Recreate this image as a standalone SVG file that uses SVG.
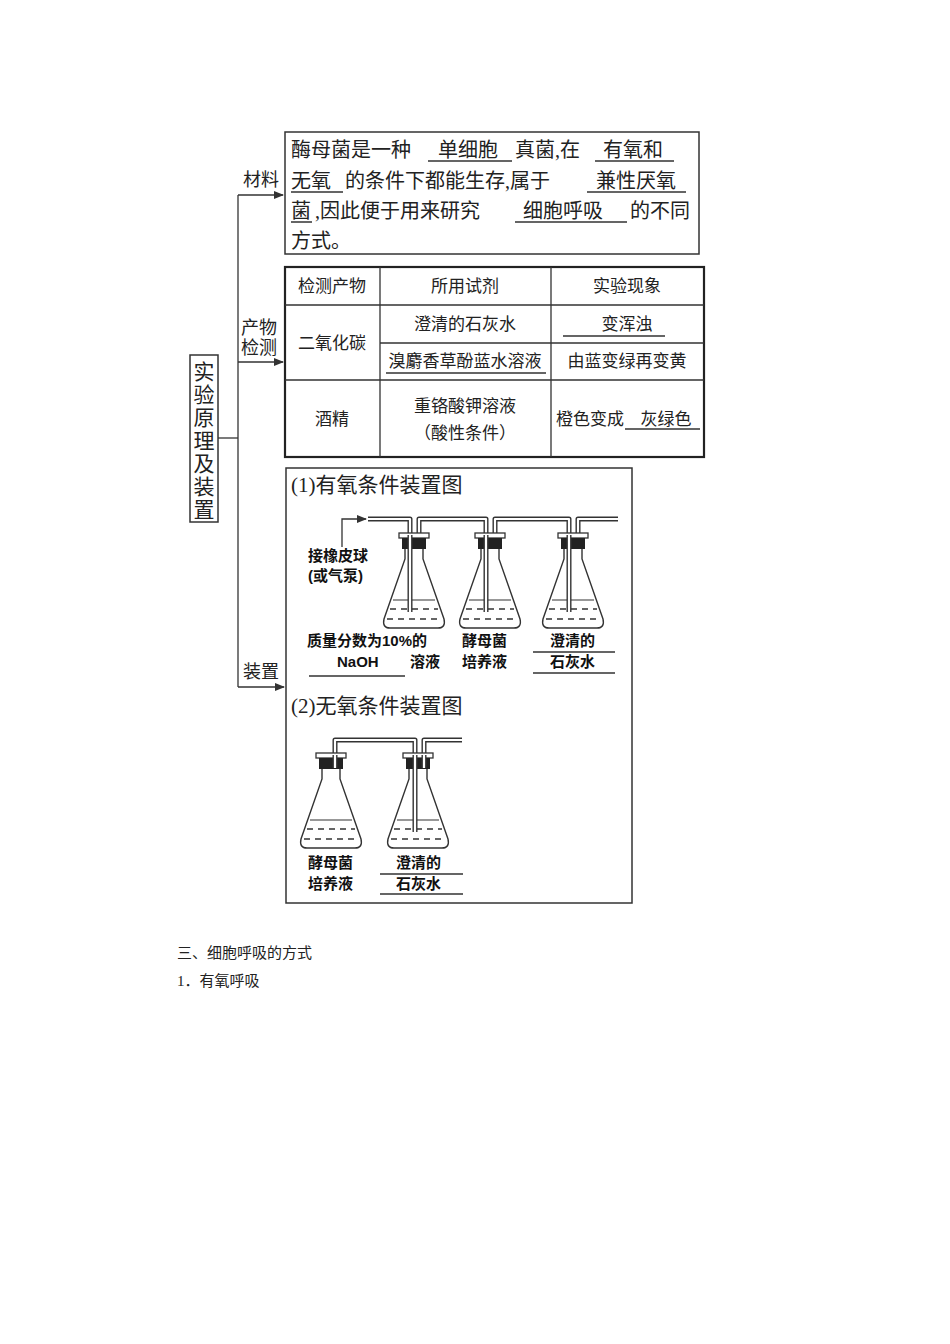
<svg xmlns="http://www.w3.org/2000/svg" width="950" height="1344" viewBox="0 0 950 1344">
<style>
.t{font-family:"Liberation Serif","Noto Sans CJK SC",serif;fill:#222}
.s{font-family:"Liberation Sans","Noto Sans CJK SC",sans-serif;fill:#111;font-weight:bold}
.ln{stroke:#333;stroke-width:1.3;fill:none}
.bx{stroke:#333;stroke-width:1.5;fill:none}
.tube{stroke:#333;stroke-width:5;fill:none;stroke-linejoin:round}
.tubei{stroke:#fff;stroke-width:2.2;fill:none;stroke-linejoin:round}
</style>
<defs>
<marker id="ar" markerWidth="10" markerHeight="8" refX="9" refY="4" orient="auto" markerUnits="userSpaceOnUse"><path d="M0,0 L10,4 L0,8 z" fill="#333"/></marker>
<g id="flask">
<path d="M-9,15 L-9,26 L-30,86 Q-32,95 -24,95 L24,95 Q32,95 30,86 L9,26 L9,15" fill="#fff" stroke="#333" stroke-width="1.4"/>
<line x1="-21" y1="67" x2="21" y2="67" stroke="#333" stroke-width="1.2"/>
<path d="M-24,76 h6 M-13,76 h6 M-2,76 h6 M9,76 h6 M20,76 h4 M-27,86 h6 M-16,86 h6 M-5,86 h6 M6,86 h6 M17,86 h6" stroke="#333" stroke-width="1.3"/>
<rect x="-15" y="0" width="30" height="5" fill="#fff" stroke="#333" stroke-width="1.3"/>
<rect x="-12" y="5" width="24" height="11" fill="#222"/>
</g>
</defs>

<g id="root">
<rect class="bx" x="190" y="355" width="28" height="167"/>
<text class="t" font-size="21" x="204" y="379" text-anchor="middle">实</text>
<text class="t" font-size="21" x="204" y="402" text-anchor="middle">验</text>
<text class="t" font-size="21" x="204" y="425" text-anchor="middle">原</text>
<text class="t" font-size="21" x="204" y="448" text-anchor="middle">理</text>
<text class="t" font-size="21" x="204" y="471" text-anchor="middle">及</text>
<text class="t" font-size="21" x="204" y="494" text-anchor="middle">装</text>
<text class="t" font-size="21" x="204" y="517" text-anchor="middle">置</text>
</g>

<g id="connectors">
<line class="ln" x1="218" y1="438" x2="238" y2="438"/>
<line class="ln" x1="238" y1="195" x2="238" y2="687"/>
<line class="ln" x1="238" y1="195" x2="283" y2="195" marker-end="url(#ar)"/>
<line class="ln" x1="238" y1="362" x2="283" y2="362" marker-end="url(#ar)"/>
<line class="ln" x1="238" y1="687" x2="284" y2="687" marker-end="url(#ar)"/>
<text class="t" font-size="18" x="243" y="186">材料</text>
<text class="t" font-size="18" x="241" y="334">产物</text>
<text class="t" font-size="18" x="241" y="354">检测</text>
<text class="t" font-size="18" x="243" y="678">装置</text>
</g>

<g id="material">
<rect class="bx" x="285" y="132" width="414" height="122"/>
<g class="t" font-size="20">
<text x="291" y="157">酶母菌是一种</text><text x="438" y="157">单细胞</text><text x="515" y="157">真菌,在</text><text x="603" y="157">有氧和</text>
<text x="291" y="188">无氧</text><text x="345" y="188">的条件下都能生存,属于</text><text x="596" y="188">兼性厌氧</text>
<text x="291" y="218">菌</text><text x="315" y="218">,因此便于用来研究</text><text x="523" y="218">细胞呼吸</text><text x="630" y="218">的不同</text>
<text x="291" y="248">方式。</text>
</g>
<path class="ln" d="M428,161 H512 M595,161 H674 M291,192 H343 M587,192 H686 M291,222 H312 M515,222 H627"/>
</g>

<g id="table">
<rect x="285" y="267" width="419" height="190" fill="none" stroke="#222" stroke-width="2.2"/>
<path class="ln" d="M380,267 V457 M551,267 V457 M285,305 H704 M380,343 H704 M285,380 H704"/>
<g class="t" font-size="17" text-anchor="middle">
<text x="332" y="292">检测产物</text><text x="465" y="292">所用试剂</text><text x="627" y="292">实验现象</text>
<text x="332" y="349">二氧化碳</text>
<text x="465" y="330">澄清的石灰水</text><text x="627" y="330">变浑浊</text>
<text x="465" y="367">溴麝香草酚蓝水溶液</text><text x="627" y="367">由蓝变绿再变黄</text>
<text x="332" y="425">酒精</text>
<text x="465" y="412">重铬酸钾溶液</text><text x="465" y="439">（酸性条件）</text>
<text x="590" y="425">橙色变成</text><text x="666" y="425">灰绿色</text>
</g>
<path class="ln" d="M563,336 H665 M386,373 H546 M625,429 H700"/>
</g>

<g id="apparatus">
<rect class="bx" x="286" y="468" width="346" height="435"/>
<text class="t" font-size="21" x="291" y="492">(1)有氧条件装置图</text>
<text class="t" font-size="21" x="291" y="713">(2)无氧条件装置图</text>

<path class="tube" d="M368,519 H410 V612"/><path class="tubei" d="M368,519 H410 V612"/>
<path class="tube" d="M419,548 V519 H486 V612"/><path class="tubei" d="M419,548 V519 H486 V612"/>
<path class="tube" d="M495,548 V519 H569 V612"/><path class="tubei" d="M495,548 V519 H569 V612"/>
<path class="tube" d="M578,548 V519 H618"/><path class="tubei" d="M578,548 V519 H618"/>
<path class="ln" d="M342,547 V519 H366" marker-end="url(#ar)"/>
<use href="#flask" x="414" y="533"/>
<use href="#flask" x="490" y="533"/>
<use href="#flask" x="573" y="533"/>
<path class="tube" d="M410,535 V612"/><path class="tubei" d="M410,535 V612"/>
<path class="tube" d="M486,535 V612"/><path class="tubei" d="M486,535 V612"/>
<path class="tube" d="M569,535 V612"/><path class="tubei" d="M569,535 V612"/>

<g class="s" font-size="15">
<text x="308" y="561">接橡皮球</text>
<text x="308" y="581">(或气泵)</text>
<text x="307" y="646">质量分数为10%的</text>
<text x="337" y="667">NaOH</text>
<text x="410" y="667">溶液</text>
<text x="462" y="646">酵母菌</text><text x="462" y="667">培养液</text>
<text x="550" y="646">澄清的</text><text x="550" y="667">石灰水</text>
</g>
<path class="ln" d="M309,676 H405 M533,652 H615 M533,673 H615"/>

<path class="tube" d="M335,766 V740 H415 V832"/><path class="tubei" d="M335,766 V740 H415 V832"/>
<path class="tube" d="M424,766 V740 H462"/><path class="tubei" d="M424,766 V740 H462"/>
<use href="#flask" x="331" y="753" transform="translate(0,0)"/>
<use href="#flask" x="418" y="753"/>
<path class="tube" d="M415,755 V832"/><path class="tubei" d="M415,755 V832"/>
<path class="tube" d="M335,755 V768"/><path class="tubei" d="M335,755 V768"/>
<path class="tube" d="M424,755 V768"/><path class="tubei" d="M424,755 V768"/>
<g class="s" font-size="15">
<text x="308" y="868">酵母菌</text><text x="308" y="889">培养液</text>
<text x="396" y="868">澄清的</text><text x="396" y="889">石灰水</text>
</g>
<path class="ln" d="M380,874 H463 M380,894 H463"/>
</g>

<g id="footer" class="t" font-size="15">
<text x="177" y="958">三、细胞呼吸的方式</text>
<text x="177" y="986">1．有氧呼吸</text>
</g>
</svg>
